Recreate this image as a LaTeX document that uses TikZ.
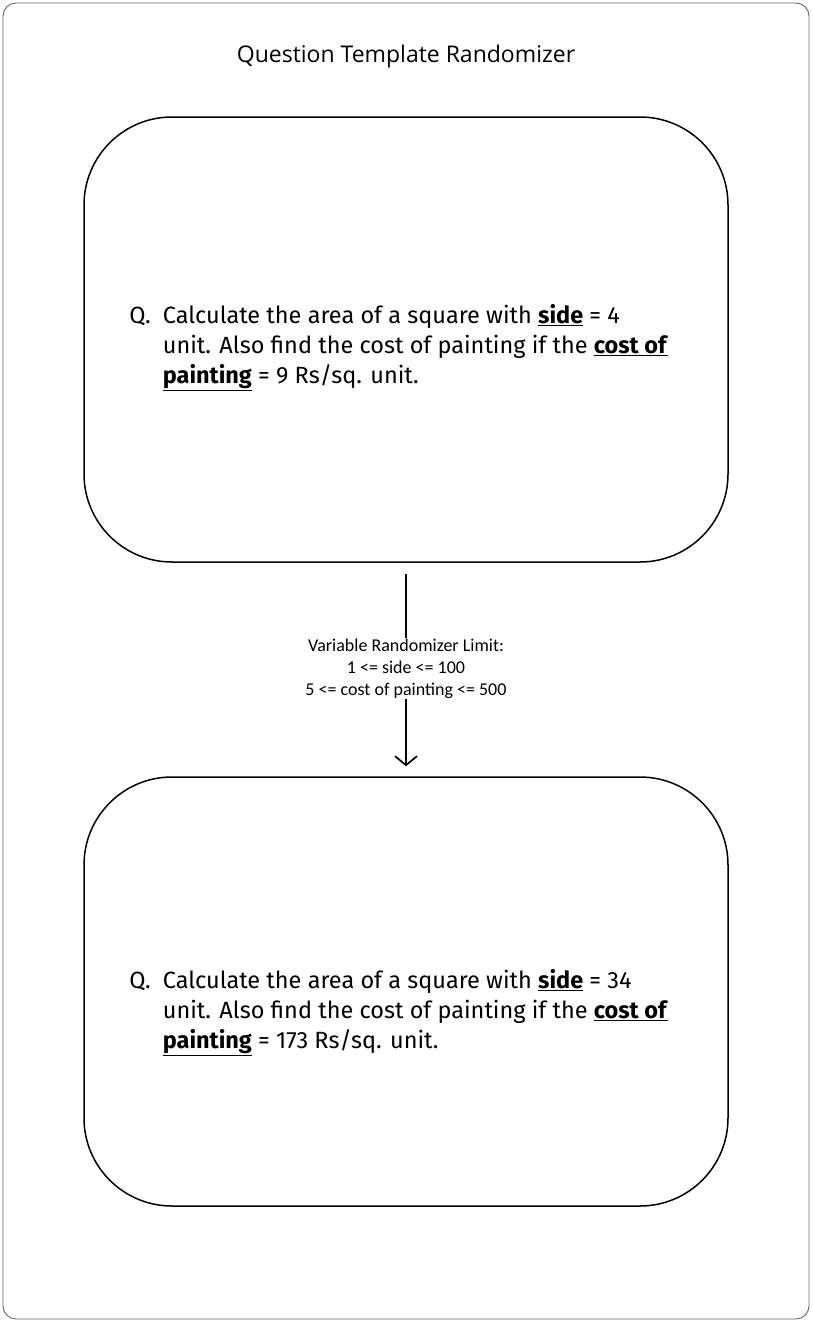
\documentclass[tikz,border=0pt]{standalone}
\usepackage{fontspec}
\setmainfont{Fira Sans}
\newfontfamily\titlefont{Open Sans}
\newfontfamily\notefont{Carlito}
\usetikzlibrary{positioning, arrows.meta}

\tikzset{
    qbox/.style = {draw, line width=1.5pt, rounded corners=88pt, minimum width=644pt, inner sep=0pt},
    qtext/.style = {font=\fontsize{23.5}{30}\selectfont, align=left, inner sep=0pt, anchor=west},
    note/.style = {font=\notefont\fontsize{18}{22}\selectfont, align=center, fill=white, inner sep=1pt}
}
\newcommand{\key}[1]{\underline{\textbf{#1}}}

\begin{document}
\begin{tikzpicture}[x=1pt, y=-1pt]
            \useasboundingbox (0,0) rectangle (812,1322);
            \draw[gray!80!black, line width=0.9pt, rounded corners=13pt] (3,3) rectangle (809,1319);
            
            \node[font=\titlefont\fontsize{23}{28}\selectfont] (title) at (406,57) {Question Template Randomizer};
            
            \node[qbox, minimum height=445pt] (q1) at (406,339.5) {};
            \node[qtext] (q1text) at ([xshift=46pt, yshift=-8pt]q1.west)
                {\begin{tabular}{@{}l@{\hspace{12pt}}l@{}}
                Q. & Calculate the area of a square with \key{side} = 4\\
                   & unit. Also find the cost of painting if the \key{cost of}\\
                   & \key{painting} = 9 Rs/sq. unit.
                \end{tabular}};
            
            \node[qbox, minimum height=429pt] (q2) at (406,991.5) {};
            \node[qtext] (q2text) at ([xshift=46pt, yshift=-21pt]q2.west)
                {\begin{tabular}{@{}l@{\hspace{12pt}}l@{}}
                Q. & Calculate the area of a square with \key{side} = 34\\
                   & unit. Also find the cost of painting if the \key{cost of}\\
                   & \key{painting} = 173 Rs/sq. unit.
                \end{tabular}};
            
            \draw[line width=1.7pt, -{Straight Barb[length=9pt, width=22pt]}, shorten <=11pt, shorten >=10pt] (q1) -- (q2)
                node[note, midway, yshift=1pt] (limits) {Variable Randomizer Limit:\\ 1 <= side <= 100\\ 5 <= cost of painting <= 500};
\end{tikzpicture}
\end{document}
